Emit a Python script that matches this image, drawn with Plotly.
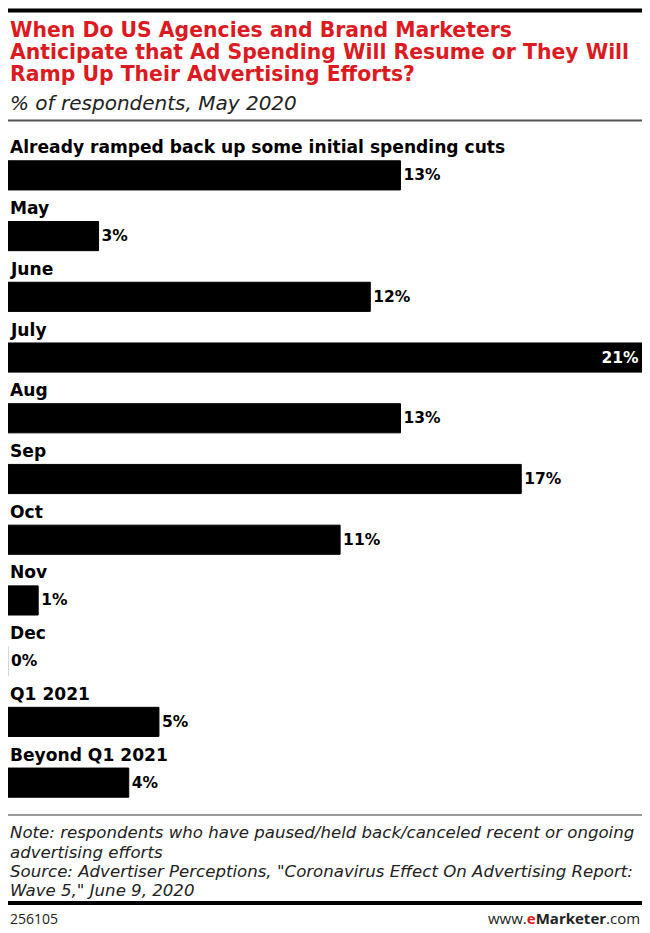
import plotly.graph_objects as go

categories = ["Already ramped back up some initial spending cuts", "May", "June", "July",
              "Aug", "Sep", "Oct", "Nov", "Dec", "Q1 2021", "Beyond Q1 2021"]
values = [13, 3, 12, 21, 13, 17, 11, 1, 0, 5, 4]
value_labels = [f"{v}%" for v in values]

W, H = 650, 933
L, R = 8, 8
T, B = 145, 120
plot_h = H - T - B


def py(px):
    return (H - B - px) / plot_h


LABEL_FONT = "DejaVu Sans"
TITLE_FONT = "DejaVu Sans"
NOTE_FONT = "DejaVu Sans"

positions = ["inside" if v == max(values) else "outside" for v in values]
edge_colors = ["#c8c8c8" if v == 0 else "#000000" for v in values]

fig = go.Figure()
fig.add_trace(go.Bar(
    x=values, y=categories, orientation="h",
    marker=dict(color="#000000", line=dict(width=1, color=edge_colors)),
    width=0.48,
    text=value_labels, textposition=positions,
    insidetextanchor="end",
    insidetextfont=dict(color="white", size=15.5, family=LABEL_FONT, weight="bold"),
    outsidetextfont=dict(color="black", size=15.5, family=LABEL_FONT, weight="bold"),
    cliponaxis=False, hoverinfo="skip",
))

annotations = []
for c in categories:
    annotations.append(dict(
        x=0, y=c, xref="x", yref="y", text=c, showarrow=False,
        xanchor="left", yanchor="middle", yshift=28,
        font=dict(family=LABEL_FONT, size=17.1, color="black", weight="bold"),
    ))

title_lines = ["When Do US Agencies and Brand Marketers",
               "Anticipate that Ad Spending Will Resume or They Will",
               "Ramp Up Their Advertising Efforts?"]
for i, t in enumerate(title_lines):
    annotations.append(dict(
        x=0, y=py(30 + 21.8 * i), xref="paper", yref="paper", text=t, showarrow=False,
        xanchor="left", yanchor="middle",
        font=dict(family=TITLE_FONT, size=20.4, color="#dc1a22", weight="bold"),
    ))
annotations.append(dict(
    x=0, y=py(103), xref="paper", yref="paper", text="<i>% of respondents, May 2020</i>",
    showarrow=False, xanchor="left", yanchor="middle",
    font=dict(family=NOTE_FONT, size=20, color="#222222"),
))

notes = ["Note: respondents who have paused/held back/canceled recent or ongoing",
         "advertising efforts",
         "Source: Advertiser Perceptions, \"Coronavirus Effect On Advertising Report:",
         "Wave 5,\" June 9, 2020"]
for i, t in enumerate(notes):
    annotations.append(dict(
        x=0, y=py(833 + 19.3 * i), xref="paper", yref="paper", text=f"<i>{t}</i>",
        showarrow=False, xanchor="left", yanchor="middle",
        font=dict(family=NOTE_FONT, size=16.6, color="#222222"),
    ))
annotations.append(dict(
    x=0, y=py(918), xref="paper", yref="paper", text="256105", showarrow=False,
    xanchor="left", yanchor="middle", font=dict(family="Open Sans", size=14, color="#222222"),
))
annotations.append(dict(
    x=1, y=py(918), xref="paper", yref="paper",
    text="www.<b><span style='color:#dc1a22'>e</span>Marketer</b>.com", showarrow=False,
    xanchor="right", yanchor="middle", font=dict(family="Open Sans", size=15, color="#222222"),
))

shapes = [
    dict(type="line", xref="paper", yref="paper", x0=0, x1=1, y0=py(10.5), y1=py(10.5),
         line=dict(color="black", width=4)),
    dict(type="line", xref="paper", yref="paper", x0=0, x1=1, y0=py(120.5), y1=py(120.5),
         line=dict(color="#555555", width=2)),
    dict(type="line", xref="paper", yref="paper", x0=0, x1=1, y0=py(815), y1=py(815),
         line=dict(color="#777777", width=1.5)),
    dict(type="line", xref="paper", yref="paper", x0=0, x1=1, y0=py(903), y1=py(903),
         line=dict(color="black", width=4)),
]

fig.update_layout(
    width=W, height=H,
    margin=dict(l=L, r=R, t=T, b=B, pad=0),
    paper_bgcolor="white", plot_bgcolor="white",
    showlegend=False,
    xaxis=dict(range=[0, 21], autorange=False, visible=False, fixedrange=True),
    yaxis=dict(categoryorder="array", categoryarray=categories, autorange=False,
               range=[10.5, -0.5], visible=False, fixedrange=True),
    annotations=annotations, shapes=shapes,
    bargap=0.5,
)

fig.write_html("out.html", config={"displayModeBar": False},
               post_script="document.body.style.margin='0px';")
